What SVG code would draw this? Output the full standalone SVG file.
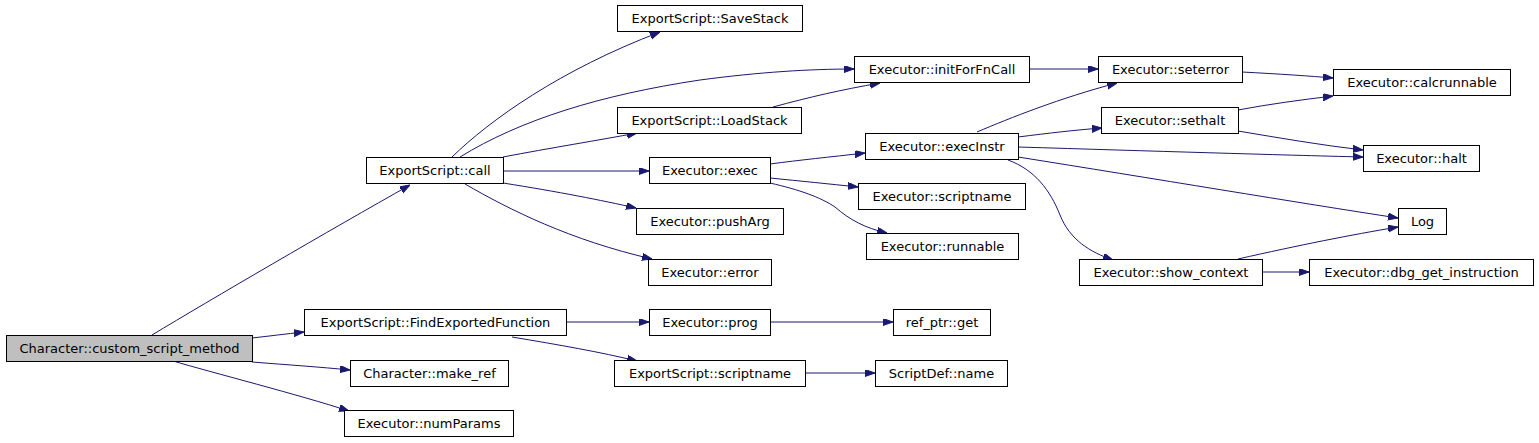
<svg xmlns="http://www.w3.org/2000/svg" width="1539" height="443" viewBox="0 0 1539 443">
<defs>
<style>
.n rect{fill:#ffffff;stroke:#000000;stroke-width:1}
.n.root rect{fill:#bfbfbf}
.n text{font-family:"DejaVu Sans",sans-serif;font-size:13px;fill:#000000;text-anchor:middle}
.e path{fill:none;stroke:#191970;stroke-width:1;marker-end:url(#ah)}
</style>
<marker id="ah" markerUnits="userSpaceOnUse" markerWidth="10" markerHeight="8" refX="10" refY="3.5" orient="auto">
<path d="M0,0 L10,3.5 L0,7 z" fill="#191970" stroke="#191970" stroke-width="1"/>
</marker>
</defs>
<rect width="1539" height="443" fill="#ffffff"/>
<g id="edges" class="e">
<path d="M152,335 C210,300 330,230 410,185"/>
<path d="M252,338 C270,336 285,334 304,332"/>
<path d="M252,362 C290,365 320,367 350,370"/>
<path d="M173,361 C210,372 300,395 349,411"/>
<path d="M452,157 C490,120 560,70 660,32"/>
<path d="M460,157 C520,120 600,95 700,80 C760,72 810,69 854,69"/>
<path d="M503,157 C550,148 600,140 637,133"/>
<path d="M503,171 L649,171"/>
<path d="M503,183 C560,192 600,200 636,208"/>
<path d="M465,184 C510,210 570,240 652,259"/>
<path d="M773,107 C810,97 840,90 880,83"/>
<path d="M770,164 C800,160 830,157 865,153"/>
<path d="M770,178 C800,181 830,184 858,187"/>
<path d="M770,183 C800,190 820,197 835,207 C850,220 865,228 887,233"/>
<path d="M1029,69 L1098,69"/>
<path d="M977,132 C1010,118 1060,98 1117,83"/>
<path d="M1018,137 C1050,133 1075,130 1102,128"/>
<path d="M1018,147 C1150,151 1280,155 1363,157"/>
<path d="M1018,157 C1150,178 1300,203 1398,218"/>
<path d="M1008,160 C1035,170 1050,190 1060,215 C1070,240 1090,252 1113,260"/>
<path d="M1242,72 C1280,74 1310,76 1333,78"/>
<path d="M1238,110 C1270,104 1300,100 1333,96"/>
<path d="M1238,131 C1280,138 1320,145 1363,150"/>
<path d="M1238,259 C1300,245 1350,235 1398,227"/>
<path d="M1262,272 L1309,272"/>
<path d="M566,322 L649,322"/>
<path d="M512,337 C560,345 600,352 637,361"/>
<path d="M770,322 L893,322"/>
<path d="M805,373 L875,373"/>
</g>
<g id="n_custom_script_method" class="n root"><rect x="6.5" y="335.5" width="246" height="26"/><text x="129.5" y="353">Character::custom_script_method</text></g>
<g id="n_FindExportedFunction" class="n"><rect x="304.5" y="309.5" width="262" height="26"/><text x="435.5" y="327">ExportScript::FindExportedFunction</text></g>
<g id="n_make_ref" class="n"><rect x="350.5" y="360.5" width="158" height="26"/><text x="429.5" y="378">Character::make_ref</text></g>
<g id="n_numParams" class="n"><rect x="344.5" y="410.5" width="169" height="26"/><text x="429" y="428">Executor::numParams</text></g>
<g id="n_call" class="n"><rect x="366.5" y="157.5" width="137" height="26"/><text x="435" y="175">ExportScript::call</text></g>
<g id="n_SaveStack" class="n"><rect x="617.5" y="5.5" width="185" height="26"/><text x="710" y="23">ExportScript::SaveStack</text></g>
<g id="n_LoadStack" class="n"><rect x="617.5" y="107.5" width="184" height="26"/><text x="709.5" y="125">ExportScript::LoadStack</text></g>
<g id="n_exec" class="n"><rect x="649.5" y="157.5" width="121" height="26"/><text x="710" y="175">Executor::exec</text></g>
<g id="n_pushArg" class="n"><rect x="636.5" y="208.5" width="147" height="26"/><text x="710" y="226">Executor::pushArg</text></g>
<g id="n_error" class="n"><rect x="648.5" y="259.5" width="123" height="26"/><text x="710" y="277">Executor::error</text></g>
<g id="n_initForFnCall" class="n"><rect x="854.5" y="56.5" width="175" height="26"/><text x="942" y="74">Executor::initForFnCall</text></g>
<g id="n_execInstr" class="n"><rect x="865.5" y="133.5" width="153" height="26"/><text x="942" y="151">Executor::execInstr</text></g>
<g id="n_Executor_scriptname" class="n"><rect x="858.5" y="183.5" width="167" height="26"/><text x="942" y="201">Executor::scriptname</text></g>
<g id="n_runnable" class="n"><rect x="866.5" y="233.5" width="152" height="26"/><text x="942.5" y="251">Executor::runnable</text></g>
<g id="n_seterror" class="n"><rect x="1098.5" y="56.5" width="144" height="26"/><text x="1170.5" y="74">Executor::seterror</text></g>
<g id="n_sethalt" class="n"><rect x="1101.5" y="107.5" width="137" height="26"/><text x="1170" y="125">Executor::sethalt</text></g>
<g id="n_show_context" class="n"><rect x="1079.5" y="259.5" width="183" height="26"/><text x="1171" y="277">Executor::show_context</text></g>
<g id="n_calcrunnable" class="n"><rect x="1333.5" y="69.5" width="177" height="26"/><text x="1422" y="87">Executor::calcrunnable</text></g>
<g id="n_halt" class="n"><rect x="1363.5" y="145.5" width="116" height="26"/><text x="1421.5" y="163">Executor::halt</text></g>
<g id="n_Log" class="n"><rect x="1398.5" y="208.5" width="48" height="26"/><text x="1422.5" y="226">Log</text></g>
<g id="n_dbg_get_instruction" class="n"><rect x="1309.5" y="259.5" width="224" height="26"/><text x="1421.5" y="277">Executor::dbg_get_instruction</text></g>
<g id="n_prog" class="n"><rect x="649.5" y="309.5" width="121" height="26"/><text x="710" y="327">Executor::prog</text></g>
<g id="n_ref_ptr_get" class="n"><rect x="893.5" y="309.5" width="97" height="26"/><text x="942" y="327">ref_ptr::get</text></g>
<g id="n_ExportScript_scriptname" class="n"><rect x="614.5" y="360.5" width="191" height="26"/><text x="710" y="378">ExportScript::scriptname</text></g>
<g id="n_ScriptDef_name" class="n"><rect x="875.5" y="360.5" width="132" height="26"/><text x="941.5" y="378">ScriptDef::name</text></g>
</svg>
